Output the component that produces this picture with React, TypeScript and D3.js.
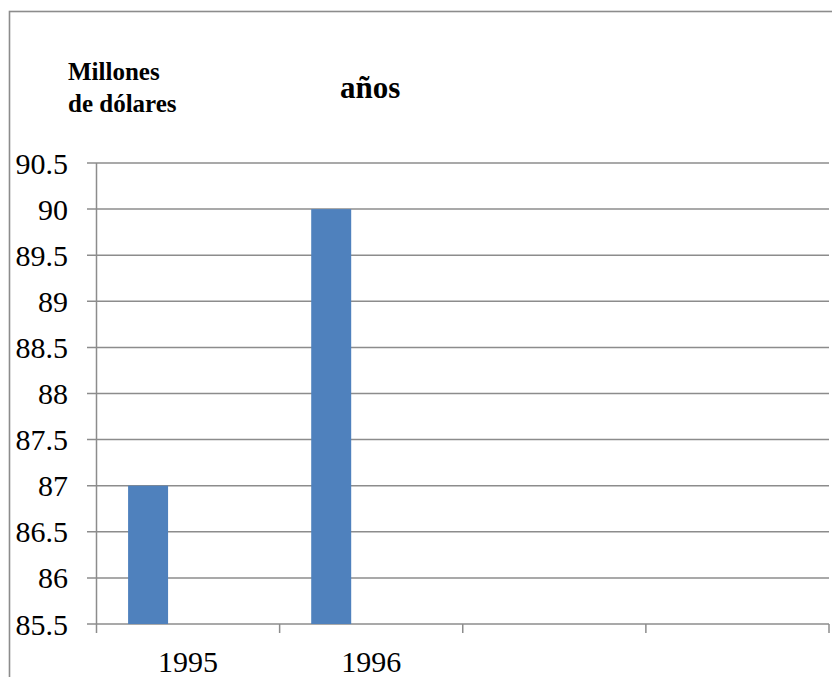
import React from "react";
import * as d3 from "d3";

const categories = ["1995", "1996", "", " "];
const seriesNames = ["Serie 1", "Serie 2", "Serie 3"];
const serie1 = [87, 90, null, null];
const serie2: (number | null)[] = [null, null, null, null];
const serie3: (number | null)[] = [null, null, null, null];
const yTicks = [85.5, 86, 86.5, 87, 87.5, 88, 88.5, 89, 89.5, 90, 90.5];

const W = 832;
const H = 677;
const FONT = "Liberation Serif";
const GRID = "#8c8c8c";
const BAR = "#4F81BD";

export default function App() {
  const left = 96.5;
  const right = 829;
  const top = 163;
  const bottom = 624;

  const y = d3.scaleLinear().domain([85.5, 90.5]).range([bottom, top]);
  const x = d3.scaleBand<string>().domain(categories).range([left, right]).padding(0);
  const x1 = d3
    .scaleBand<string>()
    .domain(seriesNames)
    .range([0, x.bandwidth()])
    .paddingInner(0)
    .paddingOuter(0.79);

  const allSeries = [serie1, serie2, serie3];

  return (
    <svg
      width={W}
      height={H}
      style={{ position: "absolute", left: 0, top: 0, background: "#fff", fontFamily: FONT }}
    >
      <rect x={0} y={0} width={W} height={H} fill="#fff" />
      {/* outer border */}
      <rect x={9.5} y={11.5} width={W + 10} height={H + 10} fill="none" stroke={GRID} strokeWidth={1.6} />

      {/* gridlines + y tick marks */}
      {yTicks.map((t) => (
        <line key={"g" + t} x1={87} x2={right} y1={y(t)} y2={y(t)} stroke={GRID} strokeWidth={1.5} />
      ))}
      {/* y axis */}
      <line x1={left} x2={left} y1={top} y2={bottom + 9} stroke={GRID} strokeWidth={1.5} />
      {/* x tick marks */}
      {categories.map((c) => (
        <line
          key={"xt" + c}
          x1={(x(c) as number) + x.bandwidth()}
          x2={(x(c) as number) + x.bandwidth()}
          y1={bottom}
          y2={bottom + 9}
          stroke={GRID}
          strokeWidth={1.5}
        />
      ))}

      {/* bars */}
      {allSeries.map((s, si) =>
        s.map((v, ci) =>
          v == null ? null : (
            <rect
              key={"b" + si + "-" + ci}
              x={(x(categories[ci]) as number) + (x1(seriesNames[si]) as number)}
              y={y(v)}
              width={x1.bandwidth()}
              height={y(85.5) - y(v)}
              fill={BAR}
            />
          )
        )
      )}

      {/* y labels */}
      {yTicks.map((t) => (
        <text
          key={"yl" + t}
          x={68}
          y={y(t) + 10.5}
          textAnchor="end"
          style={{ fontFamily: FONT }}
          fontSize={30}
          fill="#000"
        >
          {String(t)}
        </text>
      ))}

      {/* x labels */}
      {categories.map((c) => (
        <text
          key={"xl" + c}
          x={(x(c) as number) + x.bandwidth() / 2}
          y={672}
          textAnchor="middle"
          style={{ fontFamily: FONT }}
          fontSize={30}
          fill="#000"
        >
          {c}
        </text>
      ))}

      {/* titles */}
      <text x={68} y={80} style={{ fontFamily: FONT }} fontWeight="bold" fontSize={25} fill="#000">
        Millones
      </text>
      <text x={68} y={112} style={{ fontFamily: FONT }} fontWeight="bold" fontSize={25} fill="#000">
        de dólares
      </text>
      <text x={340} y={98} style={{ fontFamily: FONT }} fontWeight="bold" fontSize={31} fill="#000">
        años
      </text>
    </svg>
  );
}
